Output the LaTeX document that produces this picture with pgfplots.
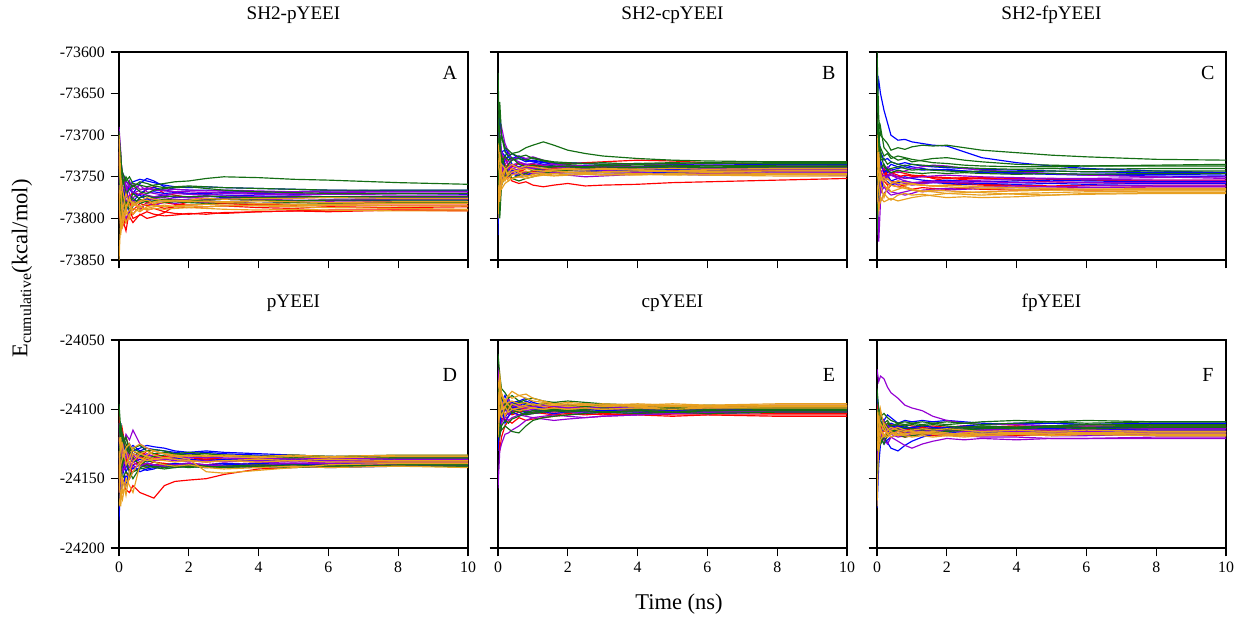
\documentclass[border=0pt]{standalone}
\usepackage{fontspec}
\setmainfont{Liberation Serif}
\usepackage{pgfplots}
\usepackage{pgfplotstable}
\pgfplotsset{compat=1.18}

\definecolor{cR}{RGB}{255,0,0}
\definecolor{cB}{RGB}{0,0,255}
\definecolor{cP}{RGB}{148,0,211}
\definecolor{cG}{RGB}{20,110,20}
\definecolor{cO}{RGB}{232,160,32}

% one row per run, one column per time (ns); transposed below
\pgfplotstableread{
run 0 0.05 0.1 0.2 0.3 0.4 0.6 0.8 1 1.3 1.6 2 2.5 3 4 5 6 8 10
r1 -73700 -73740 -73800 -73815 -73790 -73795 -73785 -73790 -73788 -73792 -73794 -73795 -73793 -73794 -73792 -73791 -73792 -73790 -73790
r2 -73760 -73815 -73790 -73770 -73785 -73778 -73790 -73780 -73784 -73788 -73786 -73787 -73786 -73785 -73787 -73788 -73786 -73787 -73786
r3 -73720 -73780 -73810 -73800 -73798 -73805 -73795 -73800 -73798 -73793 -73785 -73780 -73778 -73782 -73784 -73785 -73783 -73782 -73782
r4 -73740 -73760 -73770 -73790 -73775 -73768 -73772 -73765 -73762 -73770 -73772 -73775 -73776 -73777 -73778 -73779 -73778 -73780 -73780
r5 -73800 -73770 -73795 -73805 -73790 -73800 -73796 -73792 -73795 -73797 -73796 -73794 -73795 -73793 -73792 -73791 -73790 -73790 -73791
r6 -73720 -73750 -73775 -73765 -73780 -73790 -73782 -73785 -73783 -73781 -73783 -73784 -73783 -73782 -73783 -73784 -73785 -73784 -73784
p1 -73690 -73720 -73760 -73770 -73755 -73765 -73760 -73768 -73770 -73772 -73770 -73771 -73772 -73770 -73771 -73772 -73771 -73772 -73772
p2 -73710 -73770 -73790 -73800 -73790 -73782 -73778 -73780 -73776 -73775 -73777 -73778 -73777 -73776 -73777 -73778 -73778 -73777 -73777
p3 -73760 -73730 -73745 -73760 -73770 -73780 -73788 -73782 -73785 -73780 -73782 -73780 -73781 -73780 -73782 -73781 -73780 -73781 -73781
p4 -73730 -73760 -73750 -73765 -73760 -73758 -73765 -73764 -73766 -73767 -73768 -73768 -73769 -73768 -73769 -73770 -73769 -73768 -73768
p5 -73740 -73790 -73770 -73780 -73772 -73775 -73770 -73772 -73774 -73773 -73774 -73775 -73774 -73773 -73774 -73775 -73774 -73775 -73775
p6 -73770 -73745 -73760 -73755 -73762 -73770 -73766 -73763 -73765 -73766 -73765 -73766 -73767 -73766 -73767 -73768 -73767 -73768 -73768
b1 -73720 -73770 -73790 -73760 -73765 -73770 -73758 -73752 -73755 -73762 -73765 -73766 -73766 -73767 -73768 -73768 -73767 -73766 -73766
b2 -73750 -73790 -73770 -73780 -73795 -73785 -73775 -73770 -73768 -73770 -73769 -73771 -73770 -73769 -73770 -73771 -73771 -73770 -73771
b3 -73700 -73745 -73780 -73775 -73760 -73770 -73772 -73778 -73774 -73772 -73775 -73774 -73773 -73775 -73774 -73773 -73774 -73775 -73774
b4 -73770 -73740 -73760 -73785 -73775 -73780 -73770 -73765 -73763 -73766 -73768 -73770 -73771 -73772 -73773 -73774 -73775 -73776 -73776
b5 -73740 -73760 -73745 -73755 -73760 -73756 -73753 -73755 -73757 -73760 -73762 -73763 -73762 -73763 -73764 -73765 -73766 -73767 -73767
b6 -73790 -73760 -73780 -73772 -73778 -73784 -73780 -73776 -73778 -73779 -73778 -73777 -73778 -73777 -73778 -73779 -73778 -73779 -73779
g1 -73695 -73730 -73745 -73755 -73750 -73758 -73760 -73762 -73760 -73758 -73756 -73755 -73752 -73750 -73751 -73753 -73754 -73757 -73759
g2 -73710 -73760 -73750 -73770 -73765 -73760 -73768 -73770 -73766 -73764 -73763 -73762 -73764 -73766 -73768 -73769 -73770 -73770 -73770
g3 -73730 -73790 -73800 -73780 -73790 -73785 -73775 -73773 -73775 -73774 -73773 -73774 -73773 -73774 -73775 -73774 -73774 -73774 -73774
g4 -73750 -73720 -73770 -73790 -73780 -73770 -73777 -73780 -73779 -73777 -73778 -73779 -73778 -73777 -73778 -73779 -73778 -73778 -73778
g5 -73700 -73740 -73760 -73750 -73758 -73762 -73756 -73758 -73761 -73763 -73762 -73761 -73762 -73763 -73764 -73765 -73766 -73766 -73766
g6 -73760 -73790 -73775 -73785 -73780 -73776 -73782 -73779 -73780 -73781 -73780 -73781 -73782 -73781 -73782 -73781 -73782 -73781 -73781
o1 -73850 -73800 -73810 -73790 -73775 -73785 -73780 -73778 -73782 -73780 -73779 -73778 -73776 -73777 -73776 -73776 -73775 -73776 -73776
o2 -73760 -73820 -73790 -73805 -73795 -73788 -73792 -73786 -73784 -73786 -73785 -73784 -73783 -73784 -73785 -73786 -73787 -73788 -73789
o3 -73730 -73760 -73790 -73770 -73785 -73795 -73786 -73783 -73780 -73778 -73779 -73780 -73779 -73780 -73779 -73780 -73781 -73780 -73780
o4 -73700 -73750 -73765 -73790 -73800 -73780 -73790 -73788 -73786 -73784 -73786 -73785 -73786 -73785 -73784 -73785 -73784 -73785 -73785
o5 -73780 -73810 -73800 -73795 -73790 -73782 -73786 -73790 -73788 -73789 -73788 -73787 -73788 -73789 -73790 -73789 -73790 -73791 -73791
o6 -73720 -73770 -73800 -73785 -73778 -73783 -73779 -73775 -73777 -73779 -73778 -73779 -73780 -73781 -73782 -73783 -73783 -73782 -73782
}\rawA

\pgfplotstableread{
run 0 0.05 0.1 0.2 0.3 0.4 0.6 0.8 1 1.3 1.6 2 2.5 3 4 5 6 8 10
r1 -73700 -73760 -73740 -73750 -73745 -73755 -73758 -73756 -73760 -73762 -73760 -73758 -73761 -73760 -73759 -73757 -73756 -73754 -73752
r2 -73760 -73720 -73750 -73740 -73735 -73742 -73745 -73740 -73738 -73736 -73735 -73734 -73733 -73732 -73730 -73731 -73733 -73735 -73736
r3 -73740 -73780 -73760 -73745 -73750 -73740 -73743 -73746 -73744 -73742 -73743 -73742 -73741 -73740 -73741 -73742 -73743 -73742 -73742
r4 -73720 -73740 -73730 -73725 -73738 -73735 -73740 -73738 -73740 -73741 -73740 -73739 -73740 -73741 -73742 -73741 -73740 -73740 -73740
r5 -73780 -73740 -73755 -73748 -73752 -73745 -73742 -73744 -73743 -73741 -73740 -73741 -73740 -73739 -73738 -73739 -73740 -73741 -73741
r6 -73690 -73730 -73720 -73735 -73740 -73738 -73734 -73736 -73735 -73738 -73739 -73740 -73739 -73740 -73741 -73742 -73743 -73744 -73744
p1 -73740 -73700 -73690 -73710 -73720 -73730 -73725 -73728 -73726 -73730 -73735 -73738 -73740 -73742 -73745 -73747 -73748 -73746 -73745
p2 -73720 -73760 -73745 -73735 -73730 -73740 -73742 -73738 -73740 -73737 -73738 -73739 -73738 -73737 -73738 -73739 -73740 -73741 -73741
p3 -73780 -73750 -73735 -73745 -73740 -73736 -73733 -73735 -73734 -73736 -73735 -73736 -73737 -73736 -73735 -73736 -73736 -73737 -73738
p4 -73700 -73730 -73755 -73748 -73742 -73745 -73748 -73744 -73746 -73745 -73744 -73745 -73746 -73745 -73746 -73747 -73746 -73747 -73748
p5 -73760 -73700 -73720 -73730 -73735 -73728 -73732 -73735 -73738 -73742 -73745 -73748 -73750 -73749 -73747 -73746 -73745 -73744 -73744
p6 -73720 -73745 -73738 -73742 -73736 -73740 -73738 -73740 -73739 -73740 -73741 -73740 -73739 -73740 -73739 -73740 -73739 -73739 -73739
b1 -73820 -73670 -73700 -73715 -73722 -73728 -73725 -73730 -73732 -73735 -73737 -73738 -73736 -73737 -73738 -73737 -73736 -73737 -73737
b2 -73680 -73720 -73740 -73730 -73725 -73735 -73738 -73735 -73740 -73742 -73744 -73745 -73744 -73743 -73744 -73745 -73744 -73744 -73744
b3 -73740 -73760 -73730 -73745 -73750 -73742 -73746 -73748 -73745 -73743 -73742 -73741 -73742 -73743 -73742 -73741 -73742 -73741 -73741
b4 -73700 -73750 -73720 -73718 -73726 -73722 -73728 -73732 -73730 -73732 -73734 -73733 -73734 -73735 -73734 -73735 -73736 -73735 -73735
b5 -73760 -73700 -73720 -73725 -73720 -73730 -73726 -73729 -73731 -73733 -73735 -73736 -73737 -73738 -73739 -73740 -73741 -73740 -73740
b6 -73720 -73740 -73755 -73745 -73740 -73746 -73750 -73748 -73746 -73745 -73746 -73745 -73744 -73745 -73746 -73745 -73746 -73746 -73746
g1 -73625 -73720 -73700 -73715 -73718 -73722 -73720 -73715 -73712 -73708 -73712 -73718 -73722 -73725 -73728 -73730 -73731 -73732 -73732
g2 -73720 -73800 -73760 -73745 -73735 -73730 -73728 -73730 -73727 -73730 -73732 -73733 -73734 -73733 -73735 -73734 -73733 -73734 -73734
g3 -73700 -73740 -73725 -73738 -73745 -73752 -73748 -73746 -73742 -73740 -73738 -73737 -73738 -73736 -73737 -73736 -73737 -73736 -73736
g4 -73760 -73700 -73735 -73725 -73730 -73727 -73735 -73738 -73736 -73738 -73737 -73738 -73739 -73738 -73739 -73738 -73739 -73738 -73738
g5 -73700 -73660 -73700 -73720 -73725 -73722 -73726 -73724 -73728 -73731 -73733 -73735 -73734 -73735 -73734 -73733 -73734 -73733 -73733
g6 -73780 -73740 -73760 -73750 -73745 -73752 -73755 -73752 -73750 -73746 -73743 -73742 -73741 -73740 -73739 -73738 -73737 -73738 -73738
o1 -73800 -73740 -73760 -73750 -73755 -73752 -73750 -73748 -73749 -73747 -73746 -73745 -73744 -73745 -73746 -73747 -73748 -73749 -73749
o2 -73710 -73730 -73760 -73742 -73738 -73735 -73740 -73737 -73738 -73740 -73741 -73740 -73741 -73740 -73741 -73740 -73741 -73740 -73740
o3 -73740 -73720 -73745 -73755 -73745 -73740 -73745 -73743 -73745 -73744 -73743 -73744 -73745 -73744 -73743 -73744 -73744 -73743 -73743
o4 -73760 -73780 -73750 -73740 -73752 -73748 -73745 -73750 -73747 -73746 -73748 -73747 -73746 -73747 -73748 -73746 -73745 -73746 -73746
o5 -73790 -73760 -73765 -73758 -73755 -73752 -73750 -73752 -73750 -73748 -73749 -73748 -73747 -73748 -73747 -73748 -73747 -73747 -73747
o6 -73730 -73750 -73735 -73740 -73748 -73744 -73742 -73740 -73742 -73743 -73742 -73741 -73742 -73741 -73742 -73743 -73742 -73742 -73742
}\rawB

\pgfplotstableread{
run 0 0.05 0.1 0.2 0.3 0.4 0.6 0.8 1 1.3 1.6 2 2.5 3 4 5 6 8 10
r1 -73680 -73790 -73760 -73740 -73750 -73745 -73748 -73752 -73750 -73748 -73752 -73755 -73753 -73752 -73754 -73756 -73757 -73758 -73758
r2 -73720 -73740 -73765 -73755 -73760 -73758 -73755 -73757 -73759 -73760 -73761 -73760 -73759 -73760 -73761 -73762 -73763 -73762 -73762
r3 -73760 -73720 -73745 -73750 -73742 -73748 -73750 -73748 -73749 -73750 -73751 -73752 -73751 -73752 -73753 -73752 -73754 -73755 -73755
r4 -73800 -73760 -73735 -73745 -73752 -73755 -73758 -73762 -73765 -73763 -73764 -73765 -73764 -73765 -73766 -73765 -73766 -73765 -73765
r5 -73740 -73770 -73755 -73760 -73765 -73760 -73762 -73760 -73758 -73757 -73756 -73757 -73758 -73759 -73760 -73761 -73760 -73761 -73761
r6 -73700 -73730 -73745 -73740 -73748 -73745 -73744 -73746 -73748 -73749 -73750 -73751 -73752 -73751 -73752 -73753 -73754 -73754 -73754
p1 -73740 -73828 -73780 -73770 -73765 -73768 -73770 -73772 -73770 -73766 -73765 -73764 -73763 -73762 -73761 -73762 -73761 -73760 -73760
p2 -73700 -73730 -73745 -73740 -73738 -73742 -73745 -73743 -73740 -73738 -73736 -73737 -73740 -73742 -73744 -73746 -73748 -73750 -73752
p3 -73720 -73760 -73750 -73755 -73750 -73748 -73752 -73755 -73757 -73756 -73755 -73756 -73757 -73756 -73757 -73756 -73757 -73757 -73757
p4 -73780 -73740 -73760 -73748 -73752 -73756 -73760 -73758 -73760 -73758 -73757 -73756 -73755 -73754 -73753 -73752 -73752 -73751 -73750
p5 -73760 -73740 -73770 -73762 -73768 -73772 -73770 -73768 -73766 -73768 -73767 -73766 -73765 -73764 -73763 -73764 -73763 -73762 -73762
p6 -73720 -73750 -73745 -73752 -73748 -73746 -73750 -73752 -73751 -73750 -73749 -73748 -73749 -73750 -73751 -73752 -73753 -73754 -73754
b1 -73660 -73634 -73650 -73670 -73685 -73700 -73706 -73705 -73708 -73710 -73712 -73713 -73720 -73727 -73733 -73737 -73740 -73743 -73745
b2 -73810 -73760 -73730 -73745 -73740 -73735 -73738 -73736 -73738 -73740 -73742 -73741 -73743 -73745 -73746 -73747 -73748 -73749 -73750
b3 -73700 -73750 -73770 -73752 -73748 -73755 -73752 -73750 -73752 -73754 -73755 -73754 -73755 -73756 -73755 -73754 -73755 -73756 -73756
b4 -73740 -73720 -73740 -73735 -73745 -73742 -73740 -73738 -73740 -73742 -73741 -73742 -73743 -73744 -73745 -73746 -73747 -73747 -73748
b5 -73760 -73700 -73720 -73730 -73728 -73732 -73735 -73733 -73735 -73737 -73738 -73739 -73740 -73741 -73742 -73743 -73744 -73745 -73745
b6 -73740 -73780 -73760 -73752 -73756 -73760 -73757 -73755 -73757 -73758 -73757 -73758 -73759 -73758 -73759 -73758 -73759 -73758 -73758
g1 -73600 -73680 -73700 -73705 -73710 -73718 -73715 -73717 -73714 -73712 -73713 -73712 -73715 -73718 -73721 -73724 -73726 -73729 -73730
g2 -73640 -73710 -73690 -73715 -73720 -73725 -73730 -73728 -73732 -73730 -73728 -73727 -73730 -73732 -73735 -73736 -73737 -73736 -73735
g3 -73760 -73700 -73730 -73728 -73735 -73732 -73735 -73737 -73735 -73736 -73737 -73738 -73739 -73740 -73741 -73740 -73741 -73740 -73740
g4 -73820 -73740 -73720 -73738 -73742 -73740 -73738 -73740 -73742 -73741 -73742 -73743 -73744 -73743 -73744 -73743 -73744 -73743 -73743
g5 -73680 -73720 -73715 -73725 -73722 -73728 -73725 -73727 -73729 -73731 -73733 -73734 -73736 -73737 -73738 -73738 -73737 -73737 -73737
g6 -73700 -73760 -73740 -73735 -73742 -73745 -73742 -73744 -73745 -73746 -73745 -73746 -73745 -73746 -73747 -73746 -73747 -73746 -73746
o1 -73740 -73760 -73780 -73770 -73775 -73778 -73772 -73770 -73772 -73771 -73773 -73775 -73774 -73775 -73774 -73772 -73770 -73769 -73769
o2 -73720 -73745 -73760 -73775 -73762 -73768 -73765 -73762 -73765 -73767 -73768 -73770 -73771 -73772 -73770 -73769 -73768 -73767 -73767
o3 -73700 -73740 -73755 -73750 -73758 -73760 -73762 -73764 -73766 -73768 -73766 -73767 -73768 -73769 -73771 -73772 -73771 -73770 -73770
o4 -73780 -73750 -73745 -73760 -73765 -73758 -73755 -73757 -73758 -73760 -73761 -73760 -73761 -73762 -73763 -73764 -73765 -73764 -73764
o5 -73760 -73790 -73775 -73780 -73778 -73776 -73779 -73777 -73775 -73773 -73772 -73770 -73769 -73768 -73767 -73766 -73765 -73765 -73765
o6 -73740 -73720 -73750 -73755 -73752 -73756 -73758 -73760 -73759 -73760 -73761 -73762 -73763 -73764 -73765 -73766 -73766 -73766 -73766
}\rawC

\pgfplotstableread{
run 0 0.05 0.1 0.2 0.3 0.4 0.6 0.8 1 1.3 1.6 2 2.5 3 4 5 6 8 10
r1 -24130 -24160 -24150 -24158 -24160 -24155 -24160 -24162 -24164 -24155 -24152 -24151 -24150 -24147 -24143 -24142 -24141 -24140 -24140
r2 -24100 -24140 -24115 -24130 -24140 -24135 -24130 -24134 -24136 -24135 -24136 -24137 -24136 -24137 -24138 -24137 -24137 -24138 -24138
r3 -24150 -24120 -24135 -24145 -24150 -24140 -24138 -24140 -24138 -24139 -24140 -24139 -24140 -24139 -24140 -24139 -24140 -24139 -24139
r4 -24120 -24130 -24125 -24120 -24128 -24132 -24135 -24130 -24132 -24134 -24133 -24134 -24135 -24136 -24135 -24136 -24135 -24136 -24136
r5 -24110 -24150 -24135 -24140 -24132 -24136 -24140 -24142 -24140 -24139 -24140 -24141 -24140 -24139 -24140 -24141 -24140 -24141 -24141
r6 -24160 -24130 -24140 -24135 -24145 -24138 -24134 -24136 -24135 -24134 -24135 -24136 -24135 -24136 -24137 -24136 -24137 -24137 -24137
p1 -24140 -24120 -24130 -24118 -24122 -24115 -24125 -24128 -24130 -24132 -24133 -24134 -24135 -24134 -24135 -24136 -24135 -24136 -24136
p2 -24160 -24145 -24135 -24140 -24138 -24142 -24140 -24139 -24140 -24141 -24140 -24139 -24140 -24141 -24140 -24139 -24139 -24138 -24138
p3 -24110 -24135 -24140 -24130 -24135 -24133 -24138 -24136 -24137 -24136 -24137 -24138 -24137 -24138 -24137 -24138 -24137 -24137 -24137
p4 -24130 -24150 -24142 -24135 -24130 -24136 -24134 -24132 -24134 -24135 -24134 -24135 -24134 -24135 -24136 -24135 -24134 -24135 -24135
p5 -24120 -24140 -24130 -24135 -24128 -24132 -24134 -24133 -24134 -24135 -24136 -24137 -24138 -24137 -24138 -24139 -24138 -24139 -24139
p6 -24150 -24130 -24145 -24140 -24142 -24138 -24141 -24139 -24140 -24141 -24140 -24141 -24140 -24141 -24140 -24141 -24140 -24140 -24140
b1 -24180 -24150 -24140 -24155 -24145 -24140 -24145 -24143 -24142 -24141 -24142 -24141 -24142 -24141 -24142 -24141 -24142 -24141 -24141
b2 -24110 -24130 -24120 -24132 -24125 -24130 -24128 -24126 -24127 -24128 -24130 -24131 -24130 -24131 -24132 -24133 -24134 -24134 -24134
b3 -24140 -24125 -24138 -24142 -24135 -24138 -24136 -24138 -24137 -24136 -24135 -24136 -24137 -24136 -24137 -24136 -24137 -24136 -24136
b4 -24120 -24145 -24155 -24148 -24150 -24145 -24142 -24144 -24143 -24140 -24139 -24140 -24141 -24140 -24139 -24140 -24139 -24140 -24140
b5 -24130 -24110 -24125 -24130 -24128 -24126 -24130 -24128 -24129 -24130 -24131 -24132 -24131 -24132 -24133 -24134 -24135 -24135 -24135
b6 -24150 -24160 -24140 -24145 -24140 -24143 -24140 -24141 -24140 -24141 -24140 -24139 -24140 -24139 -24140 -24139 -24140 -24139 -24139
g1 -24096 -24115 -24125 -24120 -24130 -24128 -24126 -24130 -24129 -24130 -24132 -24131 -24132 -24133 -24134 -24133 -24134 -24135 -24135
g2 -24130 -24150 -24135 -24138 -24145 -24150 -24142 -24140 -24142 -24143 -24142 -24141 -24142 -24141 -24140 -24141 -24140 -24141 -24141
g3 -24140 -24110 -24120 -24130 -24125 -24135 -24140 -24137 -24138 -24140 -24141 -24142 -24141 -24142 -24141 -24140 -24141 -24140 -24140
g4 -24120 -24135 -24140 -24128 -24132 -24130 -24133 -24135 -24134 -24133 -24132 -24133 -24134 -24133 -24134 -24133 -24134 -24133 -24133
g5 -24110 -24125 -24118 -24125 -24130 -24128 -24131 -24130 -24132 -24131 -24132 -24133 -24132 -24133 -24134 -24135 -24134 -24135 -24135
g6 -24150 -24140 -24150 -24145 -24148 -24145 -24143 -24142 -24141 -24142 -24141 -24140 -24141 -24142 -24141 -24142 -24141 -24141 -24141
o1 -24170 -24160 -24165 -24150 -24155 -24160 -24140 -24135 -24138 -24140 -24141 -24140 -24142 -24143 -24142 -24141 -24142 -24141 -24142
o2 -24140 -24170 -24150 -24162 -24145 -24138 -24132 -24130 -24133 -24135 -24136 -24137 -24138 -24137 -24138 -24137 -24138 -24138 -24138
o3 -24120 -24130 -24125 -24140 -24135 -24128 -24125 -24128 -24130 -24132 -24134 -24136 -24145 -24146 -24144 -24142 -24140 -24139 -24139
o4 -24150 -24120 -24135 -24130 -24140 -24132 -24135 -24137 -24136 -24135 -24134 -24133 -24134 -24133 -24134 -24133 -24134 -24133 -24133
o5 -24130 -24145 -24160 -24155 -24150 -24145 -24138 -24133 -24130 -24132 -24133 -24134 -24133 -24134 -24135 -24134 -24135 -24134 -24134
o6 -24160 -24140 -24135 -24128 -24125 -24130 -24132 -24134 -24136 -24137 -24138 -24137 -24138 -24137 -24136 -24137 -24136 -24137 -24137
}\rawD

\pgfplotstableread{
run 0 0.05 0.1 0.2 0.3 0.4 0.6 0.8 1 1.3 1.6 2 2.5 3 4 5 6 8 10
r1 -24110 -24130 -24120 -24112 -24108 -24110 -24106 -24108 -24107 -24106 -24105 -24104 -24103 -24104 -24103 -24104 -24104 -24104 -24104
r2 -24080 -24095 -24105 -24100 -24098 -24102 -24100 -24099 -24100 -24101 -24102 -24101 -24102 -24101 -24102 -24103 -24102 -24103 -24103
r3 -24120 -24100 -24090 -24095 -24102 -24098 -24100 -24098 -24099 -24100 -24099 -24100 -24099 -24100 -24099 -24100 -24099 -24100 -24100
r4 -24100 -24115 -24108 -24104 -24100 -24104 -24102 -24101 -24103 -24102 -24103 -24102 -24101 -24102 -24101 -24102 -24101 -24101 -24101
r5 -24130 -24110 -24100 -24108 -24105 -24102 -24104 -24103 -24102 -24103 -24104 -24103 -24104 -24103 -24104 -24105 -24104 -24105 -24105
r6 -24090 -24100 -24095 -24098 -24100 -24097 -24099 -24098 -24097 -24098 -24099 -24098 -24099 -24100 -24101 -24100 -24101 -24102 -24102
p1 -24157 -24130 -24125 -24118 -24117 -24115 -24112 -24108 -24106 -24105 -24104 -24105 -24106 -24105 -24104 -24103 -24102 -24101 -24100
p2 -24070 -24090 -24100 -24095 -24092 -24098 -24096 -24100 -24098 -24097 -24098 -24097 -24096 -24097 -24098 -24099 -24098 -24097 -24097
p3 -24110 -24095 -24105 -24100 -24104 -24100 -24102 -24104 -24103 -24102 -24101 -24102 -24103 -24102 -24101 -24100 -24101 -24102 -24102
p4 -24090 -24105 -24095 -24098 -24095 -24100 -24099 -24101 -24100 -24099 -24100 -24099 -24100 -24099 -24100 -24099 -24100 -24099 -24099
p5 -24100 -24120 -24110 -24105 -24108 -24106 -24104 -24105 -24106 -24107 -24108 -24107 -24106 -24105 -24104 -24103 -24103 -24102 -24102
p6 -24080 -24095 -24090 -24094 -24096 -24098 -24097 -24099 -24098 -24097 -24098 -24099 -24098 -24099 -24098 -24099 -24098 -24098 -24098
b1 -24130 -24110 -24100 -24106 -24102 -24095 -24094 -24092 -24095 -24097 -24098 -24099 -24100 -24099 -24100 -24101 -24100 -24101 -24101
b2 -24090 -24100 -24095 -24090 -24096 -24100 -24098 -24094 -24096 -24097 -24098 -24097 -24098 -24099 -24098 -24099 -24100 -24099 -24099
b3 -24100 -24085 -24100 -24110 -24105 -24102 -24104 -24102 -24101 -24102 -24103 -24102 -24103 -24102 -24103 -24102 -24103 -24102 -24102
b4 -24115 -24095 -24090 -24098 -24102 -24099 -24097 -24099 -24100 -24101 -24100 -24101 -24100 -24101 -24100 -24101 -24100 -24100 -24100
b5 -24110 -24090 -24098 -24094 -24093 -24096 -24095 -24097 -24098 -24099 -24100 -24101 -24102 -24101 -24102 -24101 -24102 -24101 -24101
b6 -24100 -24115 -24105 -24100 -24103 -24101 -24100 -24102 -24103 -24102 -24101 -24100 -24099 -24100 -24099 -24100 -24099 -24099 -24099
g1 -24060 -24075 -24085 -24088 -24092 -24090 -24094 -24096 -24097 -24096 -24095 -24097 -24098 -24097 -24098 -24099 -24098 -24099 -24099
g2 -24120 -24110 -24115 -24112 -24114 -24116 -24117 -24112 -24108 -24106 -24105 -24104 -24103 -24102 -24103 -24102 -24103 -24102 -24102
g3 -24080 -24100 -24090 -24095 -24100 -24097 -24095 -24093 -24092 -24094 -24095 -24094 -24095 -24096 -24097 -24098 -24097 -24098 -24098
g4 -24100 -24090 -24105 -24100 -24097 -24103 -24100 -24102 -24101 -24100 -24101 -24100 -24101 -24102 -24101 -24100 -24101 -24100 -24100
g5 -24095 -24080 -24090 -24098 -24095 -24100 -24102 -24104 -24103 -24102 -24101 -24102 -24101 -24102 -24101 -24102 -24101 -24101 -24101
g6 -24110 -24120 -24112 -24108 -24110 -24107 -24105 -24103 -24102 -24101 -24100 -24101 -24100 -24099 -24100 -24099 -24100 -24099 -24099
o1 -24085 -24075 -24090 -24095 -24090 -24092 -24090 -24089 -24092 -24094 -24096 -24095 -24096 -24097 -24096 -24097 -24098 -24097 -24097
o2 -24110 -24090 -24095 -24105 -24100 -24096 -24098 -24097 -24096 -24098 -24097 -24098 -24097 -24098 -24097 -24098 -24097 -24098 -24098
o3 -24090 -24105 -24098 -24093 -24097 -24100 -24099 -24098 -24099 -24100 -24099 -24100 -24099 -24100 -24099 -24098 -24099 -24098 -24098
o4 -24095 -24085 -24100 -24098 -24095 -24094 -24096 -24095 -24097 -24096 -24097 -24096 -24097 -24096 -24097 -24096 -24097 -24096 -24096
o5 -24100 -24080 -24088 -24095 -24090 -24087 -24090 -24092 -24094 -24095 -24096 -24097 -24096 -24097 -24098 -24097 -24098 -24097 -24097
o6 -24120 -24100 -24105 -24098 -24102 -24100 -24101 -24100 -24099 -24100 -24099 -24100 -24099 -24100 -24099 -24100 -24099 -24099 -24099
}\rawE

\pgfplotstableread{
run 0 0.05 0.1 0.2 0.3 0.4 0.6 0.8 1 1.3 1.6 2 2.5 3 4 5 6 8 10
r1 -24110 -24125 -24115 -24110 -24118 -24115 -24112 -24114 -24113 -24112 -24113 -24114 -24113 -24114 -24113 -24114 -24115 -24114 -24114
r2 -24130 -24105 -24112 -24120 -24115 -24118 -24116 -24117 -24116 -24118 -24117 -24118 -24117 -24118 -24117 -24116 -24117 -24116 -24116
r3 -24095 -24110 -24120 -24113 -24110 -24112 -24115 -24113 -24114 -24113 -24114 -24113 -24112 -24113 -24112 -24113 -24112 -24112 -24112
r4 -24120 -24130 -24118 -24122 -24120 -24116 -24119 -24120 -24119 -24118 -24119 -24118 -24119 -24118 -24119 -24118 -24118 -24118 -24118
r5 -24120 -24100 -24110 -24116 -24112 -24114 -24116 -24115 -24114 -24115 -24116 -24115 -24116 -24115 -24116 -24115 -24115 -24115 -24115
r6 -24100 -24120 -24115 -24110 -24113 -24111 -24112 -24111 -24112 -24113 -24112 -24113 -24112 -24113 -24112 -24113 -24113 -24113 -24113
p1 -24071 -24080 -24076 -24078 -24084 -24088 -24092 -24097 -24099 -24101 -24105 -24108 -24110 -24111 -24111 -24112 -24112 -24113 -24113
p2 -24120 -24110 -24118 -24122 -24125 -24120 -24123 -24126 -24128 -24125 -24123 -24121 -24122 -24121 -24122 -24121 -24121 -24120 -24120
p3 -24100 -24115 -24112 -24108 -24114 -24117 -24115 -24116 -24117 -24118 -24117 -24118 -24119 -24120 -24120 -24121 -24121 -24121 -24121
p4 -24140 -24120 -24110 -24115 -24112 -24114 -24116 -24115 -24116 -24115 -24116 -24115 -24116 -24115 -24116 -24117 -24116 -24117 -24117
p5 -24110 -24125 -24118 -24120 -24116 -24118 -24120 -24119 -24118 -24117 -24118 -24119 -24118 -24119 -24118 -24119 -24119 -24118 -24118
p6 -24130 -24110 -24115 -24112 -24115 -24113 -24114 -24115 -24116 -24115 -24114 -24115 -24114 -24115 -24114 -24115 -24114 -24114 -24114
b1 -24171 -24140 -24125 -24120 -24124 -24128 -24130 -24126 -24123 -24120 -24118 -24117 -24116 -24117 -24116 -24117 -24116 -24117 -24117
b2 -24090 -24100 -24105 -24108 -24104 -24106 -24110 -24108 -24109 -24108 -24109 -24108 -24109 -24110 -24111 -24110 -24111 -24110 -24110
b3 -24130 -24115 -24108 -24114 -24112 -24110 -24112 -24114 -24113 -24112 -24113 -24114 -24113 -24114 -24113 -24114 -24113 -24113 -24113
b4 -24110 -24125 -24118 -24112 -24116 -24115 -24113 -24112 -24114 -24116 -24115 -24116 -24115 -24116 -24115 -24116 -24115 -24115 -24115
b5 -24100 -24115 -24120 -24125 -24122 -24120 -24118 -24117 -24116 -24115 -24114 -24113 -24112 -24111 -24110 -24110 -24111 -24110 -24110
b6 -24140 -24110 -24105 -24110 -24114 -24112 -24113 -24114 -24113 -24114 -24115 -24114 -24115 -24114 -24115 -24114 -24115 -24114 -24114
g1 -24085 -24100 -24105 -24103 -24106 -24108 -24110 -24109 -24110 -24111 -24110 -24111 -24110 -24111 -24110 -24109 -24110 -24109 -24109
g2 -24150 -24130 -24120 -24125 -24118 -24115 -24118 -24120 -24119 -24118 -24117 -24116 -24115 -24114 -24113 -24112 -24111 -24111 -24111
g3 -24110 -24120 -24112 -24110 -24113 -24116 -24114 -24113 -24114 -24115 -24114 -24115 -24114 -24113 -24114 -24113 -24114 -24113 -24113
g4 -24125 -24100 -24108 -24115 -24110 -24112 -24111 -24112 -24111 -24112 -24111 -24112 -24113 -24112 -24113 -24112 -24113 -24112 -24112
g5 -24100 -24110 -24105 -24110 -24108 -24112 -24110 -24111 -24110 -24109 -24110 -24109 -24110 -24109 -24108 -24109 -24108 -24109 -24109
g6 -24130 -24120 -24125 -24120 -24118 -24116 -24115 -24116 -24115 -24114 -24115 -24114 -24113 -24112 -24113 -24112 -24111 -24112 -24112
o1 -24170 -24120 -24100 -24112 -24118 -24115 -24113 -24115 -24116 -24117 -24116 -24117 -24118 -24117 -24118 -24117 -24118 -24117 -24117
o2 -24100 -24125 -24118 -24110 -24114 -24116 -24118 -24117 -24118 -24117 -24118 -24119 -24118 -24119 -24118 -24119 -24118 -24119 -24119
o3 -24120 -24105 -24115 -24120 -24115 -24113 -24115 -24116 -24115 -24114 -24115 -24114 -24115 -24116 -24115 -24116 -24115 -24116 -24116
o4 -24110 -24130 -24122 -24118 -24120 -24118 -24116 -24118 -24117 -24116 -24117 -24118 -24117 -24116 -24117 -24116 -24117 -24116 -24116
o5 -24110 -24120 -24115 -24118 -24120 -24117 -24119 -24118 -24117 -24118 -24117 -24118 -24119 -24118 -24117 -24118 -24117 -24118 -24118
o6 -24130 -24115 -24110 -24115 -24117 -24120 -24118 -24119 -24120 -24119 -24120 -24119 -24120 -24119 -24118 -24119 -24118 -24119 -24119
}\rawF

\pgfplotstabletranspose[colnames from=run, input colnames to=t]\tabA\rawA
\pgfplotstabletranspose[colnames from=run, input colnames to=t]\tabB\rawB
\pgfplotstabletranspose[colnames from=run, input colnames to=t]\tabC\rawC
\pgfplotstabletranspose[colnames from=run, input colnames to=t]\tabD\rawD
\pgfplotstabletranspose[colnames from=run, input colnames to=t]\tabE\rawE
\pgfplotstabletranspose[colnames from=run, input colnames to=t]\tabF\rawF

\newcommand{\runs}[1]{%
  \pgfplotsinvokeforeach{r1,r2,r3,r4,r5,r6}{\addplot[cR] table[x=t,y=##1]{#1};}%
  \pgfplotsinvokeforeach{b1,b2,b3,b4,b5,b6}{\addplot[cB] table[x=t,y=##1]{#1};}%
  \pgfplotsinvokeforeach{p1,p2,p3,p4,p5,p6}{\addplot[cP] table[x=t,y=##1]{#1};}%
  \pgfplotsinvokeforeach{g1,g2,g3,g4,g5,g6}{\addplot[cG] table[x=t,y=##1]{#1};}%
  \pgfplotsinvokeforeach{o1,o2,o3,o4,o5,o6}{\addplot[cO] table[x=t,y=##1]{#1};}%
}

\pgfplotsset{
  panel/.style={
    scale only axis, width=209.4pt, height=124.8pt,
    anchor=south west,
    xmin=0, xmax=10, xtick={0,2,4,6,8,10},
    xtick pos=left, ytick pos=left,
    tick align=outside, major tick length=5pt,
    axis line style={line width=0.8pt},
    every tick/.style={black, line width=0.8pt},
    tick label style={font=\fontsize{9.5}{11}\selectfont},
    /pgf/number format/assume math mode=true,
    /pgf/number format/1000 sep={},
    scaled ticks=false,
    title style={font=\fontsize{11.5}{13}\selectfont, anchor=base,
      at={(0.5,1)}, yshift=13.5pt},
    every axis plot/.append style={line width=0.7pt},
  },
  toprow/.style={ymin=-73850, ymax=-73600,
    ytick={-73850,-73800,-73750,-73700,-73650,-73600}, xticklabels={}},
  botrow/.style={ymin=-24200, ymax=-24050,
    ytick={-24200,-24150,-24100,-24050}},
  nolab/.style={yticklabels={}},
}
\newcommand{\letter}[2]{\node[font=\fontsize{12}{14}\selectfont] at (rel axis cs:0.948,#1) {#2};}

\begin{document}
\begin{tikzpicture}
\path[use as bounding box] (0,0) rectangle (741pt,370.2pt);

\begin{axis}[panel, toprow, at={(71.4pt,214.2pt)}, title={SH2-pYEEI}]
\runs{\tabA}
\letter{0.9}{A}
\end{axis}
\begin{axis}[panel, toprow, nolab, at={(298.8pt,214.2pt)}, title={SH2-cpYEEI}]
\runs{\tabB}
\letter{0.9}{B}
\end{axis}
\begin{axis}[panel, toprow, nolab, at={(526.2pt,214.2pt)}, title={SH2-fpYEEI}]
\runs{\tabC}
\letter{0.9}{C}
\end{axis}

\begin{axis}[panel, botrow, at={(71.4pt,41.4pt)}, title={pYEEI}]
\runs{\tabD}
\letter{0.83}{D}
\end{axis}
\begin{axis}[panel, botrow, nolab, at={(298.8pt,41.4pt)}, title={cpYEEI}]
\runs{\tabE}
\letter{0.83}{E}
\end{axis}
\begin{axis}[panel, botrow, nolab, at={(526.2pt,41.4pt)}, title={fpYEEI}]
\runs{\tabF}
\letter{0.83}{F}
\end{axis}

\node[rotate=90, font=\fontsize{13.5}{16}\selectfont] at (13.2pt,209.1pt)
  {E\textsubscript{cumulative}(kcal/mol)};
\node[font=\fontsize{13.5}{16}\selectfont] at (407.4pt,7.8pt) {Time (ns)};
\end{tikzpicture}
\end{document}
